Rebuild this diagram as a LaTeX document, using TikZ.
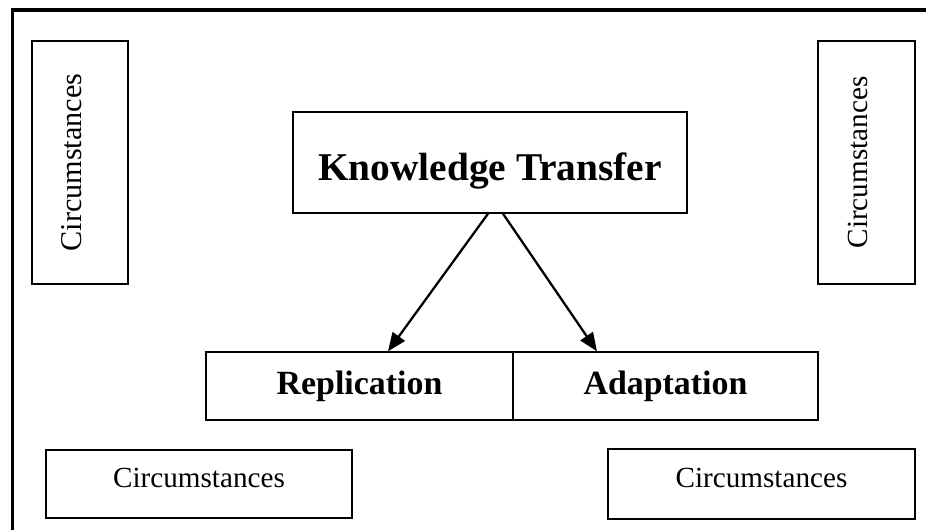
\documentclass[tikz,border=0pt]{standalone}
\usepackage{fontspec}
\setmainfont{Liberation Serif}
\usepackage{tikz}
\usetikzlibrary{arrows.meta,calc}

\begin{document}
\begin{tikzpicture}[x=0.02cm, y=-0.02cm,
    box/.style={draw, line width=0.8pt, inner sep=0pt, align=center},
    circ/.style={box, font=\fontsize{16.6}{20}\selectfont, text depth=7pt},
    side/.style={circ, rotate=90, font=\fontsize{17.2}{20}\selectfont, text depth=10pt},
    link/.style={-{Triangle[length=10.5pt, width=8.5pt]}, line width=1.3pt}]
    % Outer frame (cut at the right and bottom)
    \clip (0,0) rectangle (926,529);
    \draw[line width=2pt] (12.5,10) rectangle (940,545);

    % Circumstances at the four sides
    \node[side, minimum width=4.86cm, minimum height=1.92cm] (circleft) at (80,162.5) {Circumstances};
    \node[side, minimum width=4.86cm, minimum height=1.94cm, font=\fontsize{16.6}{20}\selectfont] (circright) at (866.5,162.5) {Circumstances};
    \node[circ, minimum width=6.12cm, minimum height=1.36cm] (circbotleft) at (199,484) {Circumstances};
    \node[circ, minimum width=6.14cm, minimum height=1.40cm] (circbotright) at (761.5,484) {Circumstances};

    % Knowledge transfer and its two modes
    \node[box, minimum width=7.88cm, minimum height=2.02cm, text height=25pt, text depth=4pt,
          font=\fontsize{22.4}{26}\selectfont\bfseries] (kt) at (490,162.5) {Knowledge Transfer};
    \node[box, minimum width=6.14cm, minimum height=1.36cm, font=\fontsize{19.3}{23}\selectfont\bfseries] (rep) at (359.5,386) {Replication};
    \node[box, minimum width=6.10cm, minimum height=1.36cm, font=\fontsize{19.3}{23}\selectfont\bfseries] (adapt) at (665.5,386) {Adaptation};

    % Arrows
    \draw[link] ($(kt.south)+(-2,0)$) -- ($(rep.north)+(28.5,0)$);
    \draw[link] ($(kt.south)+(13,0)$) -- ($(adapt.north)+(-68.5,0)$);
\end{tikzpicture}
\end{document}
